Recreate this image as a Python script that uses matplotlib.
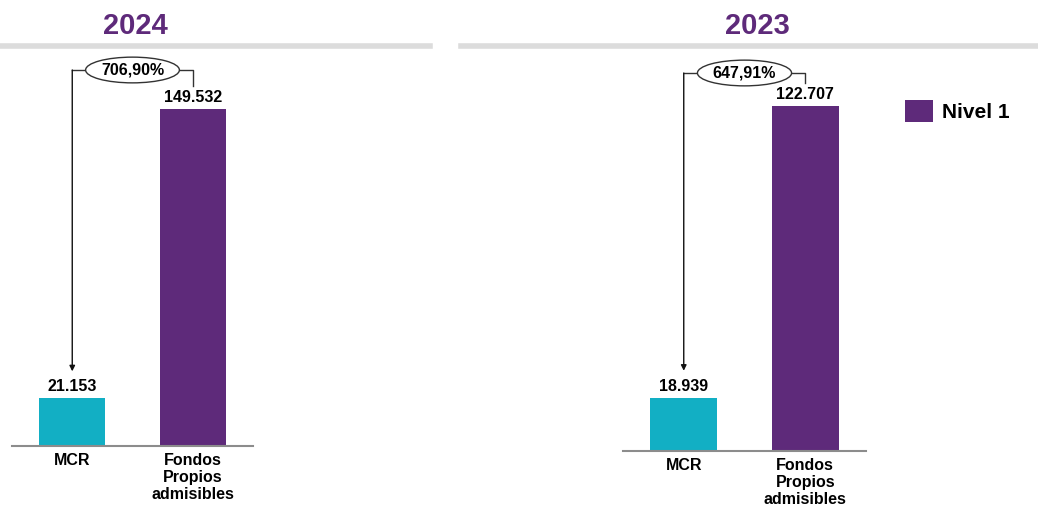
import matplotlib.pyplot as plt
from matplotlib.lines import Line2D

plt.rcParams['font.family'] = ['Liberation Sans', 'DejaVu Sans']

# Data
years = ["2024", "2023"]
categories = ["MCR", "Fondos\nPropios\nadmisibles"]
mcr = [21153, 18939]
fondos = [149532, 122707]
ratios = ["706,90%", "647,91%"]
value_labels = [["21.153", "149.532"], ["18.939", "122.707"]]

teal = "#12AFC4"
purple = "#5E2A7A"

W, H = 1038, 507
fig = plt.figure(figsize=(W / 100, H / 100), dpi=100)

def fx(px):
    return px / W

def fy(py):
    return 1 - py / H

# panel geometry in pixels: left, right, baseline, top, px per unit
panels = [
    dict(x0=12, x1=253, base=446, top=46, scale=337 / 149532),
    dict(x0=623, x1=866, base=451, top=49, scale=345 / 122707),
]
title_x = [135, 757]

for i, p in enumerate(panels):
    ax = fig.add_axes([fx(p["x0"]), fy(p["base"]), fx(p["x1"] - p["x0"]),
                       (p["base"] - p["top"]) / H])
    hpx = p["base"] - p["top"]
    ymax = hpx / p["scale"]
    vals = [mcr[i], fondos[i]]
    bars = ax.bar([0, 1], vals, width=0.55, color=[teal, purple])
    if i == 0:
        legend_handle = bars[1]
    ax.set_xlim(-0.5, 1.5)
    ax.set_ylim(0, ymax)
    for s in ["top", "right", "left"]:
        ax.spines[s].set_visible(False)
    ax.spines["bottom"].set_color("#8c8c8c")
    ax.spines["bottom"].set_linewidth(1.5)
    ax.set_yticks([])
    ax.set_xticks([0, 1])
    ax.set_xticklabels(categories, fontsize=11.5, fontweight="bold")
    for t in ax.get_xticklabels():
        t.set_linespacing(1.15)
    ax.tick_params(axis="x", length=0, pad=5)

    for j, v in enumerate(vals):
        ax.annotate(value_labels[i][j], (j, v), xytext=(0, 3),
                    textcoords="offset points", ha="center", va="bottom",
                    fontsize=11.5, fontweight="bold")

    # bracket between the two bars
    tr = ax.get_xaxis_transform()
    y_top = 1 - 24 / hpx
    y_right = fondos[i] / ymax + 23 / hpx
    y_left = mcr[i] / ymax + 27 / hpx
    ax.plot([1, 1, 0], [y_right, y_top, y_top], color="#333333", lw=1,
            transform=tr, clip_on=False)
    ax.annotate("", xy=(0, y_left), xytext=(0, y_top), xycoords=tr, textcoords=tr,
                arrowprops=dict(arrowstyle="-|>", color="#111111", lw=1,
                                mutation_scale=8, shrinkA=0, shrinkB=0))
    ax.text(0.5, y_top, ratios[i], transform=tr, ha="center", va="center",
            fontsize=11.5, fontweight="bold",
            bbox=dict(boxstyle="ellipse,pad=0.1", fc="white", ec="#333333", lw=1))

    fig.text(fx(title_x[i]), fy(26), years[i], ha="center", va="center",
             fontsize=21, fontweight="bold", color=purple)

# gray header rules
fig.add_artist(Line2D([fx(0), fx(430)], [fy(46), fy(46)], color="#dcdcdc", lw=4))
fig.add_artist(Line2D([fx(461), fx(1038)], [fy(46), fy(46)], color="#dcdcdc", lw=4))

fig.legend(handles=[legend_handle], labels=["Nivel 1"], loc="center left",
           bbox_to_anchor=(fx(905), fy(111)), frameon=False, borderpad=0,
           borderaxespad=0, handlelength=1.35, handleheight=1.3,
           handletextpad=0.45, prop=dict(size=15, weight="bold"))

fig.savefig("out.png", dpi=100)
